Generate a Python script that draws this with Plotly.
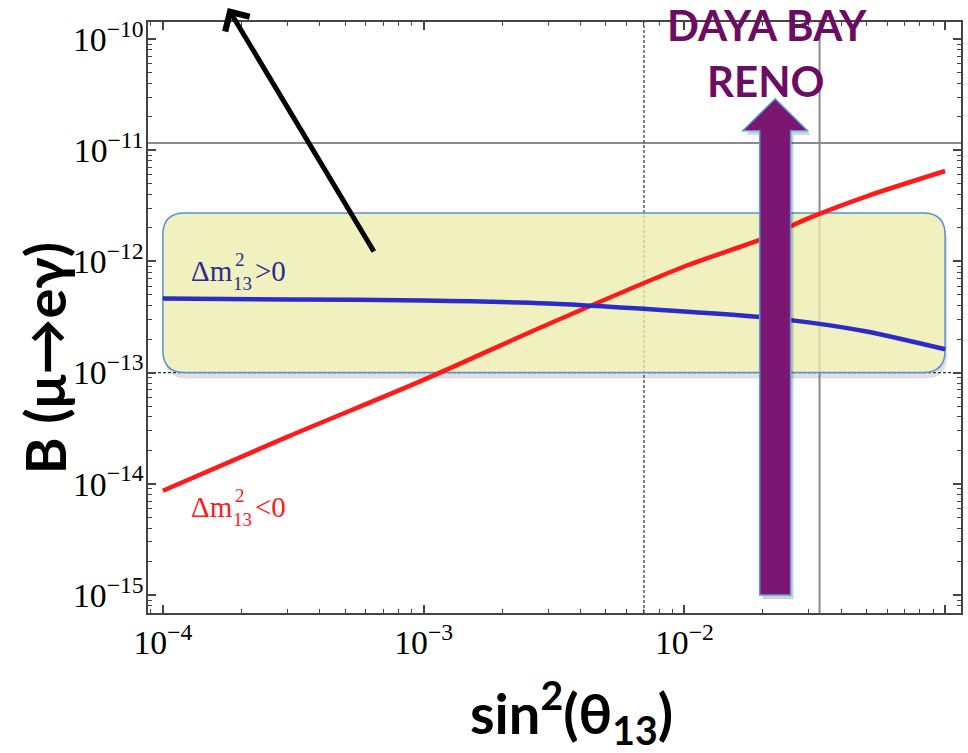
import math
import plotly.graph_objects as go

# ---------------- data ----------------
sin2_theta13 = [1e-4, 3e-4, 1e-3, 3e-3, 1e-2, 2e-2, 3e-2, 5e-2, 1e-1]
br_dm_pos = [4.64e-13, 4.55e-13, 4.45e-13, 4.19e-13, 3.55e-13, 3.15e-13, 2.83e-13, 2.34e-13, 1.62e-13]
br_dm_neg = [8.65e-15, 2.64e-14, 8.6e-14, 2.72e-13, 9.0e-13, 1.6e-12, 2.45e-12, 3.85e-12, 6.5e-12]

meg_bound = 1.16e-11          # horizontal solid gray line
future_bound = 1e-13          # horizontal dashed line
sin2_dashed = 7.0e-3          # vertical dashed line
sin2_solid = 3.3e-2           # vertical solid gray line

box_x = [1e-4, 1e-1]          # highlighted region
box_y = [1e-13, 2.72e-12]

reno_x = 0.0223               # DAYA BAY / RENO arrow
reno_y = [1e-15, 2.9e-11]

# label pieces: (main, superscript, subscript, tail)
label_pos = ("Δm", "2", "13", ">0")
label_neg = ("Δm", "2", "13", "<0")

# ---------------- layout geometry ----------------
W_FIG, H_FIG = 968, 753
ML, MR, MT, MB = 148, 5, 22, 140
PW, PH = W_FIG - ML - MR, H_FIG - MT - MB
XR = [-4.057, -0.939]
YR = [-15.162, -9.847]


def px(v):
    return (math.log10(v) - XR[0]) / (XR[1] - XR[0])


def py(v):
    return (math.log10(v) - YR[0]) / (YR[1] - YR[0])


def ppx(pix):  # pixel x -> paper
    return (pix - ML) / PW


def ppy(pix):  # pixel y -> paper
    return (H_FIG - MB - pix) / PH


def rounded_rect(x0, x1, y0, y1, r):
    rx, ry = r / PW, r / PH
    return (f"M {x0+rx},{y0} L {x1-rx},{y0} Q {x1},{y0} {x1},{y0+ry} "
            f"L {x1},{y1-ry} Q {x1},{y1} {x1-rx},{y1} L {x0+rx},{y1} "
            f"Q {x0},{y1} {x0},{y1-ry} L {x0},{y0+ry} Q {x0},{y0} {x0+rx},{y0} Z")


def up_arrow(cx, yb, yt, shaft, head, head_h, dx=0.0, dy=0.0):
    sx, hx, hh = shaft / PW, head / PW, head_h / PH
    cx += dx / PW
    yb -= dy / PH
    yt -= dy / PH
    return (f"M {cx-sx},{yb} L {cx-sx},{yt-hh} L {cx-hx},{yt-hh} L {cx},{yt} "
            f"L {cx+hx},{yt-hh} L {cx+sx},{yt-hh} L {cx+sx},{yb} Z")


fig = go.Figure()

fig.add_trace(go.Scatter(x=sin2_theta13, y=br_dm_neg, mode="lines",
                         line=dict(color="#ff1a1a", width=4.5, shape="spline", smoothing=0.8),
                         showlegend=False))
fig.add_trace(go.Scatter(x=sin2_theta13, y=br_dm_pos, mode="lines",
                         line=dict(color="#2b2bc8", width=4.5, shape="spline", smoothing=0.8),
                         showlegend=False))

bx0, bx1, by0, by1 = px(box_x[0]), px(box_x[1]), py(box_y[0]), py(box_y[1])

shapes = []
# box shadow and opaque white base (below the reference lines)
shapes.append(dict(type="path", xref="paper", yref="paper",
                   path=rounded_rect(bx0 + 2 / PW, bx1 + 2 / PW, by0 - 6 / PH, by1 - 6 / PH, 22),
                   fillcolor="rgba(0,0,0,0.12)", line=dict(width=0), layer="below"))
shapes.append(dict(type="path", xref="paper", yref="paper",
                   path=rounded_rect(bx0, bx1, by0, by1, 22),
                   fillcolor="white", line=dict(width=0), layer="below"))
# reference lines
shapes.append(dict(type="line", xref="paper", yref="y", x0=0, x1=1, y0=meg_bound, y1=meg_bound,
                   line=dict(color="#8a8a8a", width=2), layer="below"))
shapes.append(dict(type="line", xref="paper", yref="y", x0=0, x1=1, y0=future_bound, y1=future_bound,
                   line=dict(color="#333333", width=1.2, dash="3px,2px"), layer="below"))
shapes.append(dict(type="line", xref="x", yref="paper", x0=sin2_dashed, x1=sin2_dashed, y0=0, y1=1,
                   line=dict(color="#333333", width=1.2, dash="3px,2px"), layer="below"))
shapes.append(dict(type="line", xref="x", yref="paper", x0=sin2_solid, x1=sin2_solid, y0=0, y1=1,
                   line=dict(color="#8a8a8a", width=2), layer="below"))
# highlighted rounded box (semi-transparent so lines show through)
shapes.append(dict(type="path", xref="paper", yref="paper",
                   path=rounded_rect(bx0, bx1, by0, by1, 22),
                   fillcolor="rgba(236,236,172,0.76)", line=dict(color="#5b8fd0", width=1.5),
                   layer="below"))

# DAYA BAY / RENO arrow + shadow
ax_c, ay0, ay1 = px(reno_x), py(reno_y[0]), py(reno_y[1])
shapes.append(dict(type="path", xref="paper", yref="paper",
                   path=up_arrow(ax_c, ay0, ay1, 15.5, 32.5, 32, dx=3, dy=4),
                   fillcolor="rgba(0,0,0,0.18)", line=dict(width=0), layer="above"))
shapes.append(dict(type="path", xref="paper", yref="paper",
                   path=up_arrow(ax_c, ay0, ay1, 15.5, 32.5, 32),
                   fillcolor="#7b1673", line=dict(color="#5b9bd5", width=1.5), layer="above"))


def stacked_label(pieces, x_pix, y_pix, color):
    main, sup, sub, tail = pieces
    f_main = dict(family="Liberation Serif", size=29, color=color)
    f_scr = dict(family="Liberation Serif", size=19, color=color)
    common = dict(xref="paper", yref="paper", showarrow=False, xanchor="left",
                  yanchor="middle", borderpad=0)
    return [
        dict(x=ppx(x_pix), y=ppy(y_pix), text=main, font=f_main, **common),
        dict(x=ppx(x_pix + 44), y=ppy(y_pix - 12), text=sup, font=f_scr, **common),
        dict(x=ppx(x_pix + 42), y=ppy(y_pix + 12), text=sub, font=f_scr, **common),
        dict(x=ppx(x_pix + 64), y=ppy(y_pix), text=tail, font=f_main, **common),
    ]


annotations = []
annotations += stacked_label(label_pos, 190, 271, "#2b2b8f")
annotations += stacked_label(label_neg, 190, 507, "#ff1a1a")
annotations += [
    dict(xref="paper", yref="paper", x=ppx(769), y=ppy(25), text="<b>DAYA BAY</b>",
         showarrow=False, xanchor="center", yanchor="middle",
         font=dict(family="Lato", size=42, color="#6b0d63")),
    dict(xref="paper", yref="paper", x=ppx(767), y=ppy(81), text="<b>RENO</b>",
         showarrow=False, xanchor="center", yanchor="middle",
         font=dict(family="Lato", size=42, color="#6b0d63")),
    dict(xref="paper", yref="paper", x=ppx(228), y=ppy(8), text="",
         showarrow=True, ax=147, ay=245, arrowhead=4, arrowsize=1.1, arrowwidth=5,
         arrowcolor="black"),
    dict(xref="paper", yref="paper", x=ppx(573), y=ppy(712),
         text="<b>sin<sup>2</sup>(θ<sub>13</sub>)</b>",
         showarrow=False, xanchor="center", yanchor="middle",
         font=dict(family="Lato", size=56, color="black")),
    dict(xref="paper", yref="paper", x=ppx(45), y=ppy(358),
         text="<b>B (μ→eγ)</b>", textangle=-90,
         showarrow=False, xanchor="center", yanchor="middle",
         font=dict(family="Lato", size=56, color="black")),
]

axis_common = dict(
    type="log", showline=True, linecolor="#444444", linewidth=2, mirror="ticks",
    ticks="inside", ticklen=8, tickwidth=1.5, tickcolor="#444444", dtick=1,
    exponentformat="power", showgrid=False, zeroline=False,
    tickfont=dict(family="Liberation Serif", size=27, color="black"),
    minor=dict(ticks="inside", ticklen=4, tickwidth=1, tickcolor="#444444",
               showgrid=False, dtick="D1"),
)

fig.update_layout(
    width=W_FIG, height=H_FIG,
    margin=dict(l=ML, r=MR, t=MT, b=MB),
    paper_bgcolor="white", plot_bgcolor="white",
    showlegend=False,
    xaxis=dict(range=XR, **axis_common),
    yaxis=dict(range=YR, ticklabelstandoff=-3, **axis_common),
    shapes=shapes, annotations=annotations,
)

fig.write_html("out.html")
